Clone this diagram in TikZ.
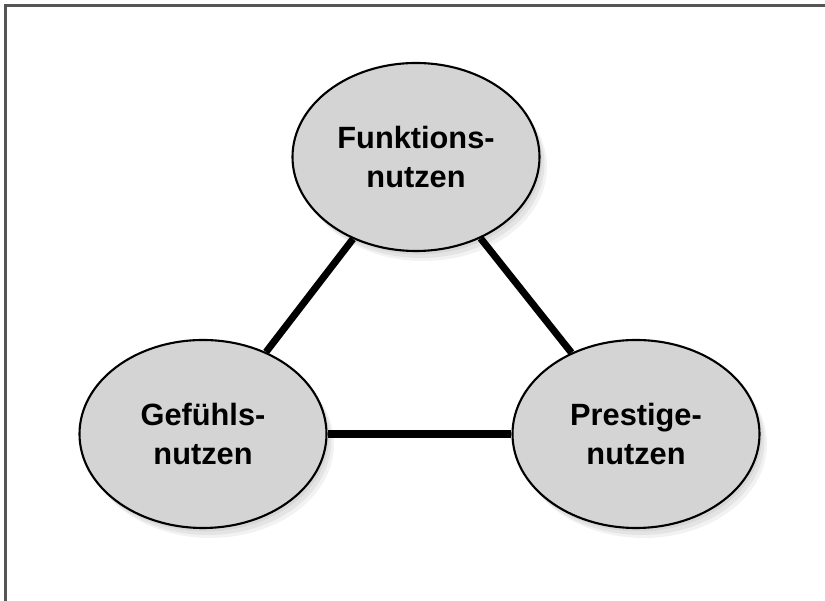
\documentclass[tikz,border=0pt]{standalone}
\usepackage{fontspec}
\setmainfont{Liberation Sans}
\usetikzlibrary{positioning,shapes.geometric,shadows}

\tikzset{
    nutzen/.style={ellipse, draw=black, line width=1.2pt, fill=nutzgray,
        minimum width=4.94cm, minimum height=3.76cm, inner sep=0pt,
        align=center, font=\fontsize{17.5}{21.8}\selectfont\bfseries,
        drop shadow={opacity=0.12, shadow xshift=0.05cm, shadow yshift=-0.07cm},
        drop shadow={opacity=0.12, shadow xshift=0.1cm, shadow yshift=-0.14cm},
        drop shadow={opacity=0.10, shadow xshift=0.15cm, shadow yshift=-0.2cm}},
    verbind/.style={line width=4pt, black}
}
\definecolor{nutzgray}{RGB}{212,212,212}
\definecolor{framegray}{RGB}{85,85,85}

\begin{document}
\begin{tikzpicture}
    \useasboundingbox (0,0) rectangle (16.5,12.02);
    \draw[framegray, line width=1.5pt] (0.11,0) -- (0.11,11.91) -- (16.5,11.91);
    % the three kinds of benefit
    \node[nutzen] (funk) at (8.32,8.88) {Funktions-\\nutzen};
    \node[nutzen] (gef) at (4.06,3.34) {Gefühls-\\nutzen};
    \node[nutzen] (pres) at (12.72,3.34) {Prestige-\\nutzen};
    \draw[verbind] (funk) -- (gef);
    \draw[verbind] (funk) -- (pres);
    \draw[verbind] (gef) -- (pres);
\end{tikzpicture}
\end{document}
